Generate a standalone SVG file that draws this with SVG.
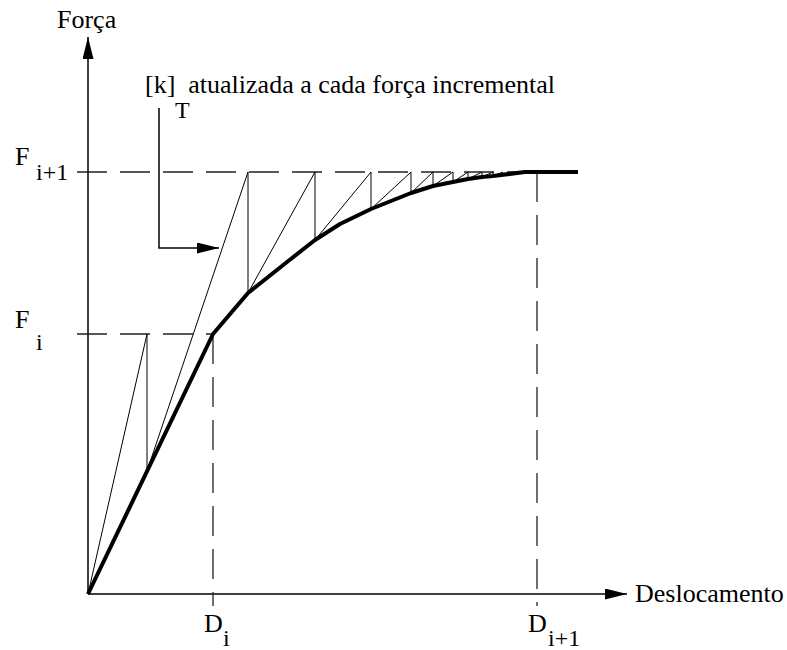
<svg xmlns="http://www.w3.org/2000/svg" width="787" height="650" viewBox="0 0 787 650">
<style>
.lbl{font-family:"Liberation Serif",serif;font-size:26px;fill:#000}
.sub{font-family:"Liberation Serif",serif;font-size:24px;fill:#000}
.axis{stroke:#000;stroke-width:1.5;fill:none}
.dash{stroke:#222;stroke-width:1.3;stroke-dasharray:30 13;fill:none}
.thin{stroke:#000;stroke-width:1;fill:none}
.curve{stroke:#000;stroke-width:4;fill:none;stroke-linejoin:round}
</style>
<defs>
<marker id="ah" markerWidth="22" markerHeight="11" refX="22" refY="5.5" orient="auto" markerUnits="userSpaceOnUse">
<path d="M0,0 L22,5.5 L0,11 Z" fill="#000"/>
</marker>
</defs>
<rect width="787" height="650" fill="#fff"/>
<g id="axes">
<line class="axis" x1="88" y1="594" x2="88" y2="37" marker-end="url(#ah)"/>
<line class="axis" x1="88" y1="594" x2="627" y2="594" marker-end="url(#ah)"/>
</g>
<g id="guides">
<line class="dash" x1="77" y1="172" x2="540" y2="172"/>
<line class="dash" x1="77" y1="334" x2="213" y2="334"/>
<line class="dash" x1="213" y1="334" x2="213" y2="606"/>
<line class="dash" x1="537" y1="172" x2="537" y2="606"/>
</g>
<g id="connectors">
<path class="thin" d="M88,594 L147,334 L147,471 L248,172 L248,293 L315,172 L315,240 L371,172 L371,209 L411,172 L411,193 L433,172 L433,186 L453,172 L453,182 L468,172 L468,179 L482,172 L482,177 L493,172 L493,176 L503,172"/>
<polyline class="axis" points="159,108 159,248 219,248" marker-end="url(#ah)"/>
</g>
<g id="curve">
<polyline class="curve" points="88,594 213,334 248,293 287,262 315,240 340,224 371,209 411,193 433,186 453,182 468,179 482,177 493,176 525,172 578,172"/>
</g>
<g id="labels">
<text class="lbl" x="57" y="28">Força</text>
<text class="lbl" x="145" y="93" xml:space="preserve">[k]  atualizada a cada força incremental</text>
<text class="sub" x="175" y="118">T</text>
<text class="lbl" x="15" y="165">F</text>
<text class="sub" x="36" y="180">i+1</text>
<text class="lbl" x="15" y="328">F</text>
<text class="sub" x="36" y="350">i</text>
<text class="lbl" x="204" y="632">D</text>
<text class="sub" x="223" y="646">i</text>
<text class="lbl" x="528" y="632">D</text>
<text class="sub" x="548" y="646">i+1</text>
<text class="lbl" x="635" y="602">Deslocamento</text>
</g>
</svg>
